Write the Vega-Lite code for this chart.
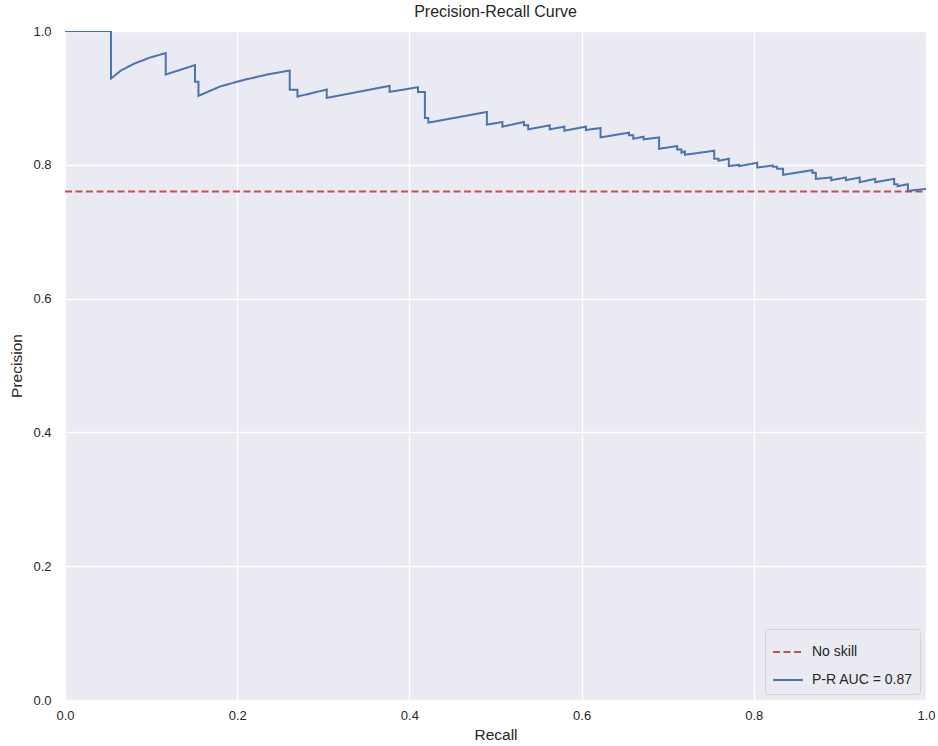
{
  "$schema": "https://vega.github.io/schema/vega-lite/v6.json",
  "width": 861,
  "height": 669,
  "autosize": {"type": "none"},
  "padding": {"left": 65, "top": 31, "right": 12, "bottom": 46},
  "title": {"text": "Precision-Recall Curve", "offset": 5},
  "data": {
    "values": [
      {"series": "No skill", "i": 0, "recall": 0.0, "precision": 0.76},
      {"series": "No skill", "i": 1, "recall": 1.0, "precision": 0.76},
      {"series": "P-R AUC = 0.87", "i": 0, "recall": 0.0, "precision": 1.0},
      {"series": "P-R AUC = 0.87", "i": 1, "recall": 0.0534, "precision": 1.0},
      {"series": "P-R AUC = 0.87", "i": 2, "recall": 0.0534, "precision": 0.929},
      {"series": "P-R AUC = 0.87", "i": 3, "recall": 0.065, "precision": 0.941},
      {"series": "P-R AUC = 0.87", "i": 4, "recall": 0.08, "precision": 0.951},
      {"series": "P-R AUC = 0.87", "i": 5, "recall": 0.098, "precision": 0.96},
      {"series": "P-R AUC = 0.87", "i": 6, "recall": 0.117, "precision": 0.967},
      {"series": "P-R AUC = 0.87", "i": 7, "recall": 0.117, "precision": 0.935},
      {"series": "P-R AUC = 0.87", "i": 8, "recall": 0.151, "precision": 0.949},
      {"series": "P-R AUC = 0.87", "i": 9, "recall": 0.151, "precision": 0.924},
      {"series": "P-R AUC = 0.87", "i": 10, "recall": 0.155, "precision": 0.924},
      {"series": "P-R AUC = 0.87", "i": 11, "recall": 0.155, "precision": 0.903},
      {"series": "P-R AUC = 0.87", "i": 12, "recall": 0.18, "precision": 0.917},
      {"series": "P-R AUC = 0.87", "i": 13, "recall": 0.205, "precision": 0.926},
      {"series": "P-R AUC = 0.87", "i": 14, "recall": 0.235, "precision": 0.935},
      {"series": "P-R AUC = 0.87", "i": 15, "recall": 0.261, "precision": 0.941},
      {"series": "P-R AUC = 0.87", "i": 16, "recall": 0.261, "precision": 0.912},
      {"series": "P-R AUC = 0.87", "i": 17, "recall": 0.27, "precision": 0.912},
      {"series": "P-R AUC = 0.87", "i": 18, "recall": 0.27, "precision": 0.902},
      {"series": "P-R AUC = 0.87", "i": 19, "recall": 0.304, "precision": 0.9125},
      {"series": "P-R AUC = 0.87", "i": 20, "recall": 0.304, "precision": 0.9},
      {"series": "P-R AUC = 0.87", "i": 21, "recall": 0.377, "precision": 0.918},
      {"series": "P-R AUC = 0.87", "i": 22, "recall": 0.377, "precision": 0.909},
      {"series": "P-R AUC = 0.87", "i": 23, "recall": 0.41, "precision": 0.916},
      {"series": "P-R AUC = 0.87", "i": 24, "recall": 0.41, "precision": 0.909},
      {"series": "P-R AUC = 0.87", "i": 25, "recall": 0.418, "precision": 0.909},
      {"series": "P-R AUC = 0.87", "i": 26, "recall": 0.418, "precision": 0.87},
      {"series": "P-R AUC = 0.87", "i": 27, "recall": 0.422, "precision": 0.87},
      {"series": "P-R AUC = 0.87", "i": 28, "recall": 0.422, "precision": 0.863},
      {"series": "P-R AUC = 0.87", "i": 29, "recall": 0.49, "precision": 0.879},
      {"series": "P-R AUC = 0.87", "i": 30, "recall": 0.49, "precision": 0.86},
      {"series": "P-R AUC = 0.87", "i": 31, "recall": 0.508, "precision": 0.864},
      {"series": "P-R AUC = 0.87", "i": 32, "recall": 0.508, "precision": 0.857},
      {"series": "P-R AUC = 0.87", "i": 33, "recall": 0.533, "precision": 0.864},
      {"series": "P-R AUC = 0.87", "i": 34, "recall": 0.533, "precision": 0.859},
      {"series": "P-R AUC = 0.87", "i": 35, "recall": 0.538, "precision": 0.859},
      {"series": "P-R AUC = 0.87", "i": 36, "recall": 0.538, "precision": 0.853},
      {"series": "P-R AUC = 0.87", "i": 37, "recall": 0.563, "precision": 0.859},
      {"series": "P-R AUC = 0.87", "i": 38, "recall": 0.563, "precision": 0.853},
      {"series": "P-R AUC = 0.87", "i": 39, "recall": 0.58, "precision": 0.857},
      {"series": "P-R AUC = 0.87", "i": 40, "recall": 0.58, "precision": 0.851},
      {"series": "P-R AUC = 0.87", "i": 41, "recall": 0.605, "precision": 0.857},
      {"series": "P-R AUC = 0.87", "i": 42, "recall": 0.605, "precision": 0.852},
      {"series": "P-R AUC = 0.87", "i": 43, "recall": 0.622, "precision": 0.855},
      {"series": "P-R AUC = 0.87", "i": 44, "recall": 0.622, "precision": 0.841},
      {"series": "P-R AUC = 0.87", "i": 45, "recall": 0.655, "precision": 0.848},
      {"series": "P-R AUC = 0.87", "i": 46, "recall": 0.655, "precision": 0.844},
      {"series": "P-R AUC = 0.87", "i": 47, "recall": 0.66, "precision": 0.844},
      {"series": "P-R AUC = 0.87", "i": 48, "recall": 0.66, "precision": 0.839},
      {"series": "P-R AUC = 0.87", "i": 49, "recall": 0.672, "precision": 0.842},
      {"series": "P-R AUC = 0.87", "i": 50, "recall": 0.672, "precision": 0.838},
      {"series": "P-R AUC = 0.87", "i": 51, "recall": 0.69, "precision": 0.841},
      {"series": "P-R AUC = 0.87", "i": 52, "recall": 0.69, "precision": 0.824},
      {"series": "P-R AUC = 0.87", "i": 53, "recall": 0.711, "precision": 0.828},
      {"series": "P-R AUC = 0.87", "i": 54, "recall": 0.711, "precision": 0.823},
      {"series": "P-R AUC = 0.87", "i": 55, "recall": 0.716, "precision": 0.823},
      {"series": "P-R AUC = 0.87", "i": 56, "recall": 0.716, "precision": 0.818},
      {"series": "P-R AUC = 0.87", "i": 57, "recall": 0.72, "precision": 0.82},
      {"series": "P-R AUC = 0.87", "i": 58, "recall": 0.72, "precision": 0.815},
      {"series": "P-R AUC = 0.87", "i": 59, "recall": 0.754, "precision": 0.821},
      {"series": "P-R AUC = 0.87", "i": 60, "recall": 0.754, "precision": 0.809},
      {"series": "P-R AUC = 0.87", "i": 61, "recall": 0.759, "precision": 0.809},
      {"series": "P-R AUC = 0.87", "i": 62, "recall": 0.759, "precision": 0.806},
      {"series": "P-R AUC = 0.87", "i": 63, "recall": 0.771, "precision": 0.809},
      {"series": "P-R AUC = 0.87", "i": 64, "recall": 0.771, "precision": 0.798},
      {"series": "P-R AUC = 0.87", "i": 65, "recall": 0.783, "precision": 0.8},
      {"series": "P-R AUC = 0.87", "i": 66, "recall": 0.783, "precision": 0.798},
      {"series": "P-R AUC = 0.87", "i": 67, "recall": 0.804, "precision": 0.803},
      {"series": "P-R AUC = 0.87", "i": 68, "recall": 0.804, "precision": 0.796},
      {"series": "P-R AUC = 0.87", "i": 69, "recall": 0.822, "precision": 0.799},
      {"series": "P-R AUC = 0.87", "i": 70, "recall": 0.822, "precision": 0.797},
      {"series": "P-R AUC = 0.87", "i": 71, "recall": 0.827, "precision": 0.797},
      {"series": "P-R AUC = 0.87", "i": 72, "recall": 0.827, "precision": 0.794},
      {"series": "P-R AUC = 0.87", "i": 73, "recall": 0.834, "precision": 0.794},
      {"series": "P-R AUC = 0.87", "i": 74, "recall": 0.834, "precision": 0.785},
      {"series": "P-R AUC = 0.87", "i": 75, "recall": 0.868, "precision": 0.792},
      {"series": "P-R AUC = 0.87", "i": 76, "recall": 0.868, "precision": 0.788},
      {"series": "P-R AUC = 0.87", "i": 77, "recall": 0.872, "precision": 0.788},
      {"series": "P-R AUC = 0.87", "i": 78, "recall": 0.872, "precision": 0.779},
      {"series": "P-R AUC = 0.87", "i": 79, "recall": 0.89, "precision": 0.781},
      {"series": "P-R AUC = 0.87", "i": 80, "recall": 0.89, "precision": 0.777},
      {"series": "P-R AUC = 0.87", "i": 81, "recall": 0.907, "precision": 0.781},
      {"series": "P-R AUC = 0.87", "i": 82, "recall": 0.907, "precision": 0.777},
      {"series": "P-R AUC = 0.87", "i": 83, "recall": 0.923, "precision": 0.781},
      {"series": "P-R AUC = 0.87", "i": 84, "recall": 0.923, "precision": 0.774},
      {"series": "P-R AUC = 0.87", "i": 85, "recall": 0.941, "precision": 0.779},
      {"series": "P-R AUC = 0.87", "i": 86, "recall": 0.941, "precision": 0.774},
      {"series": "P-R AUC = 0.87", "i": 87, "recall": 0.963, "precision": 0.779},
      {"series": "P-R AUC = 0.87", "i": 88, "recall": 0.963, "precision": 0.771},
      {"series": "P-R AUC = 0.87", "i": 89, "recall": 0.967, "precision": 0.771},
      {"series": "P-R AUC = 0.87", "i": 90, "recall": 0.967, "precision": 0.768},
      {"series": "P-R AUC = 0.87", "i": 91, "recall": 0.979, "precision": 0.771},
      {"series": "P-R AUC = 0.87", "i": 92, "recall": 0.979, "precision": 0.761},
      {"series": "P-R AUC = 0.87", "i": 93, "recall": 1.0, "precision": 0.764}
    ]
  },
  "mark": {"type": "line", "strokeWidth": 2, "clip": true},
  "encoding": {
    "x": {
      "field": "recall", "type": "quantitative", "title": "Recall",
      "scale": {"domain": [0, 1], "nice": false},
      "axis": {"values": [0, 0.2, 0.4, 0.6, 0.8, 1.0], "format": ".1f", "labelFlush": false, "labelPadding": 9, "titlePadding": 5}
    },
    "y": {
      "field": "precision", "type": "quantitative", "title": "Precision",
      "scale": {"domain": [0, 1], "nice": false},
      "axis": {"values": [0, 0.2, 0.4, 0.6, 0.8, 1.0], "format": ".1f", "labelFlush": false, "labelPadding": 14, "titlePadding": 8}
    },
    "order": {"field": "i", "type": "quantitative"},
    "color": {
      "field": "series", "type": "nominal",
      "scale": {"domain": ["No skill", "P-R AUC = 0.87"], "range": ["#C44E52", "#4C72B0"]},
      "legend": {"title": null}
    },
    "strokeDash": {
      "field": "series", "type": "nominal",
      "scale": {"domain": ["No skill", "P-R AUC = 0.87"], "range": [[7, 3.5], [1, 0]]},
      "legend": {"title": null}
    }
  },
  "config": {
    "background": "white",
    "view": {"fill": "#EAEAF2", "stroke": null},
    "font": "Liberation Sans",
    "title": {"font": "Liberation Sans", "fontSize": 16, "fontWeight": "normal", "color": "#262626"},
    "axis": {
      "domain": false, "ticks": false,
      "grid": true, "gridColor": "#FFFFFF", "gridWidth": 1.3, "gridOpacity": 1,
      "labelFont": "Liberation Sans", "labelFontSize": 13, "labelColor": "#262626",
      "titleFont": "Liberation Sans", "titleFontSize": 15.5, "titleFontWeight": "normal", "titleColor": "#262626"
    },
    "legend": {
      "orient": "bottom-right", "offset": 6,
      "fillColor": "#EAEAF2", "strokeColor": "#D2D2D8", "cornerRadius": 3, "padding": 7,
      "labelFont": "Liberation Sans", "labelFontSize": 14, "labelColor": "#262626",
      "symbolType": "stroke", "symbolSize": 900, "symbolStrokeWidth": 2, "rowPadding": 5, "labelOffset": 8
    }
  }
}
